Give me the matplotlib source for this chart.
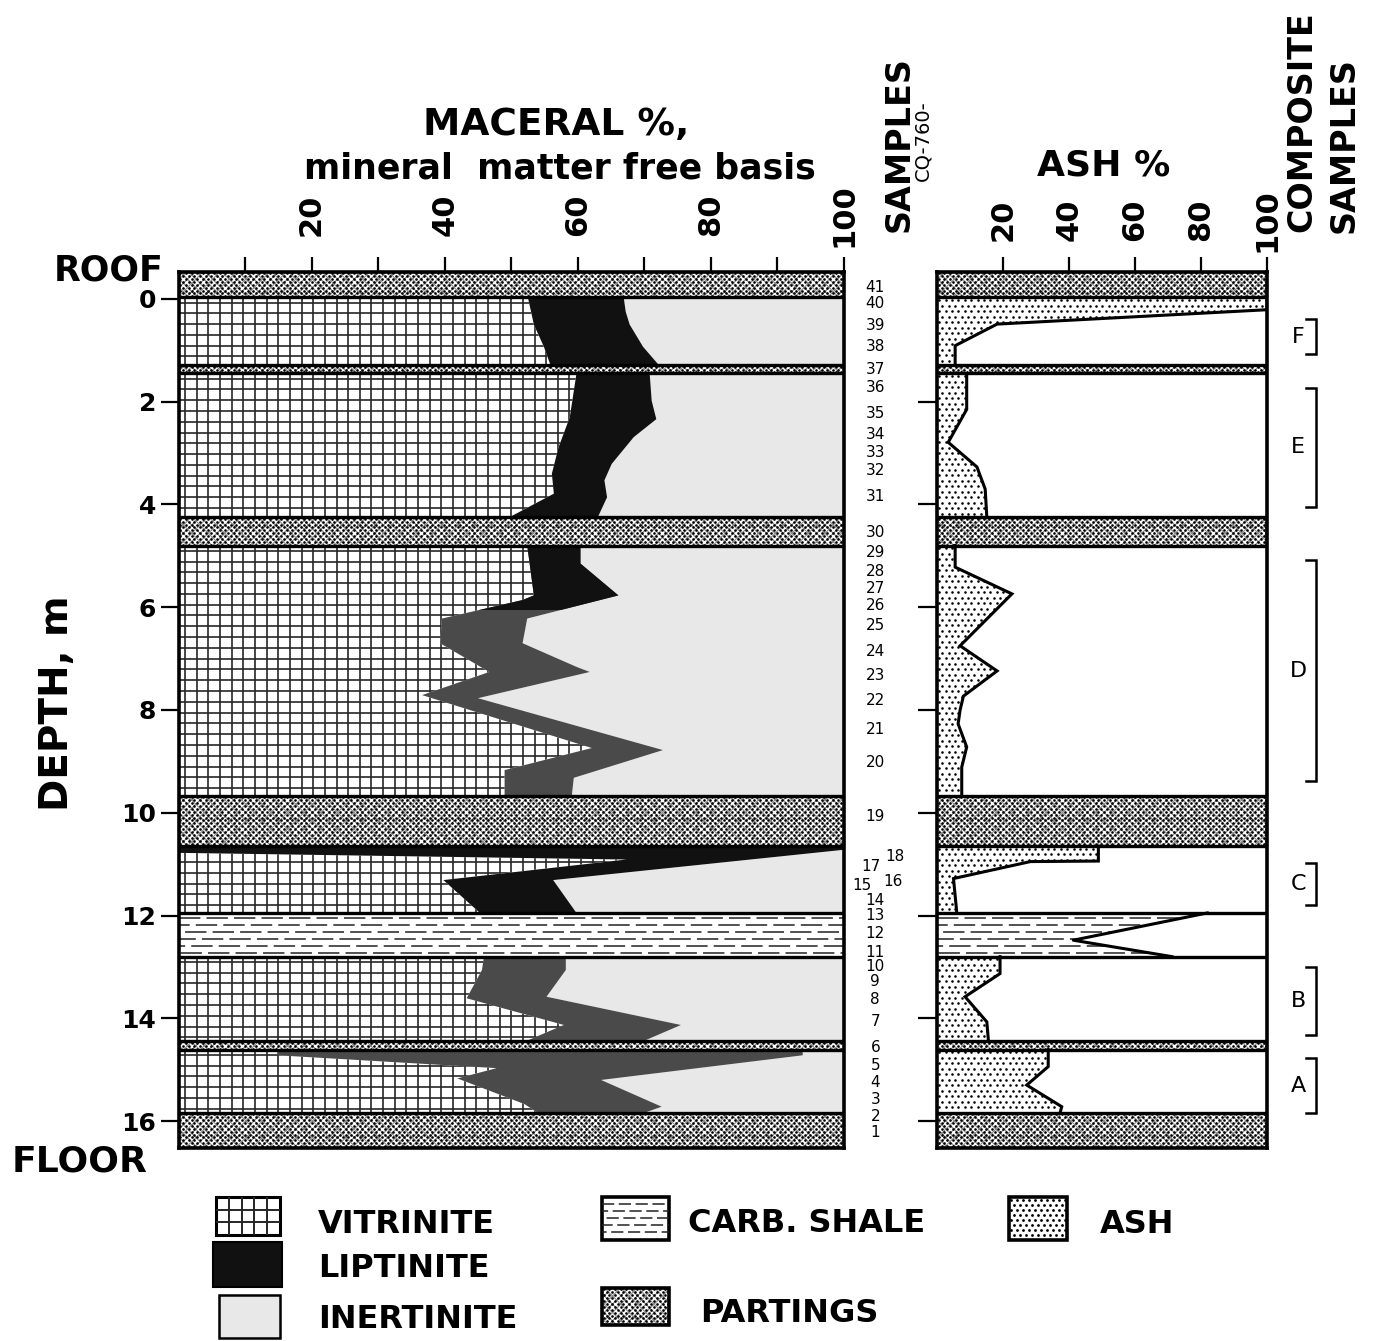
import numpy as np
import matplotlib.pyplot as plt
import matplotlib.transforms as mtransforms
from matplotlib.patches import Polygon, Rectangle
from matplotlib.collections import LineCollection

W, H = 1373, 1341
plt.rcParams['font.family'] = ['DejaVu Sans']
plt.rcParams['hatch.linewidth'] = 0.8

# ---------------- data ----------------
depth_top, depth_bot = -0.53, 16.53

# layers (top, bottom), depth in m
parting_layers = [(-0.53, -0.03), (1.29, 1.45), (4.25, 4.80), (9.67, 10.65), (14.45, 14.61), (15.84, 16.53)]
seam_layers = [(-0.03, 1.29), (1.45, 4.25), (4.80, 9.67), (10.65, 11.95), (12.80, 14.45), (14.61, 15.84)]
shale_layer = (11.95, 12.80)

# vitrinite % (left edge of liptinite), vitrinite+liptinite % (left edge of inertinite), ash %
vit_d1 = [-0.03, 0.50, 0.93, 1.29]
vit_1 = [52.5, 53.4, 54.9, 55.9]
vl_d1 = [-0.03, 0.25, 0.50, 0.93, 1.29]
vl_1 = [66.9, 67.2, 67.8, 69.8, 72.2]
ash_d1 = [-0.03, 0.21, 0.49, 0.91, 1.29]
ash_1 = [100, 100, 18.2, 5.5, 5.5]

vit_d2 = [1.45, 2.30, 2.89, 3.40, 3.79, 4.25]
vit_2 = [59.8, 58.8, 57.1, 56.1, 56.4, 49.7]
vl_d2 = [1.45, 1.98, 2.34, 2.69, 3.21, 3.53, 3.86, 4.25]
vl_2 = [70.8, 71.1, 71.8, 68.4, 65.1, 64.0, 64.4, 63.0]
ash_d2 = [1.45, 2.15, 2.79, 3.27, 3.70, 4.25]
ash_2 = [9.0, 9.0, 3.4, 12.1, 14.6, 15.1]

vit_d3 = [4.80, 5.77, 5.86, 6.22, 6.70, 7.26, 7.71, 8.74, 9.17, 9.67]
vit_3 = [52.4, 53.4, 51.7, 39.6, 39.3, 46.7, 36.6, 62.1, 49.0, 49.0]
vl_d3 = [4.80, 5.15, 5.77, 6.22, 6.70, 7.16, 7.26, 7.77, 8.78, 9.32, 9.67]
vl_3 = [60.4, 60.4, 66.1, 52.4, 51.7, 59.8, 61.8, 45.0, 72.8, 59.4, 59.1]
ash_d3 = [4.80, 5.22, 5.74, 6.75, 7.24, 7.73, 8.00, 8.27, 8.72, 9.11, 9.67]
ash_3 = [5.5, 5.5, 22.7, 7.0, 18.2, 8.0, 7.0, 6.4, 9.0, 7.5, 7.5]

vit_d4 = [10.65, 10.78, 10.91, 11.31, 11.95]
vit_4 = [0.0, 0.0, 67.3, 39.8, 45.3]
vl_d4 = [10.65, 10.72, 11.31, 11.95]
vl_4 = [100, 100, 56.3, 59.8]
ash_d4 = [10.65, 10.94, 10.95, 11.28, 11.95]
ash_4 = [48.9, 48.9, 28.3, 5.0, 6.0]

ash_ds = [11.95, 12.48, 12.80]
ash_s = [81.9, 41.3, 71.2]

vit_d5 = [12.80, 13.06, 13.61, 14.13, 14.45]
vit_5 = [45.9, 45.6, 43.3, 57.9, 52.1]
vl_d5 = [12.80, 13.06, 13.58, 14.13, 14.42, 14.45]
vl_5 = [58.2, 58.2, 55.3, 75.5, 70.3, 70.3]
ash_d5 = [12.80, 13.13, 13.58, 14.07, 14.45]
ash_5 = [19.1, 19.1, 8.5, 15.1, 15.6]

vit_d6 = [14.61, 14.72, 14.97, 15.17, 15.67, 15.84]
vit_6 = [14.9, 14.9, 47.8, 41.9, 52.0, 54.0]
vl_d6 = [14.61, 14.72, 15.20, 15.72, 15.84]
vl_6 = [93.8, 93.8, 63.5, 72.6, 70.0]
ash_d6 = [14.61, 14.94, 15.30, 15.72, 15.84]
ash_6 = [33.7, 33.7, 27.2, 37.8, 37.3]

# sample numbers CQ-760-xx and their depths
sample_ids = list(range(41, 0, -1))
sample_depth = [-0.23, 0.08, 0.51, 0.93, 1.38, 1.73, 2.22, 2.63, 2.98, 3.33, 3.85, 4.55, 4.94,
                5.31, 5.63, 5.96, 6.35, 6.87, 7.32, 7.81, 8.37, 9.03, 10.08,
                10.86, 11.04, 11.33, 11.41, 11.70, 11.99, 12.34, 12.71, 13.00, 13.29,
                13.64, 14.07, 14.56, 14.91, 15.24, 15.59, 15.92, 16.23]
sample_shift = {18: 3.0, 17: -0.7, 16: 2.7, 15: -2.0}

# composite samples
comp_names = ['F', 'E', 'D', 'C', 'B', 'A']
comp_top = [0.39, 1.74, 5.08, 10.98, 13.00, 14.78]
comp_bot = [1.08, 4.04, 9.39, 11.79, 14.33, 15.85]

seams = [(vit_d1, vit_1, vl_d1, vl_1, ash_d1, ash_1),
         (vit_d2, vit_2, vl_d2, vl_2, ash_d2, ash_2),
         (vit_d3, vit_3, vl_d3, vl_3, ash_d3, ash_3),
         (vit_d4, vit_4, vl_d4, vl_4, ash_d4, ash_4),
         (vit_d5, vit_5, vl_d5, vl_5, ash_d5, ash_5),
         (vit_d6, vit_6, vl_d6, vl_6, ash_d6, ash_6)]
lip_colors = ['#111111', '#111111', '#4a4a4a', '#111111', '#4a4a4a', '#4a4a4a']

GRID_C = '#262626'
INERT_C = '#e8e8e8'


def add_poly(a, xs, ys, **kw):
    p = Polygon(np.column_stack([xs, ys]), closed=True, **kw)
    a.add_patch(p)
    return p


def grid_lines(a, clip, y0, y1, x0=0, x1=100, dx=1.75, dy=0.21, lw=1.2):
    segs = [[(x, y0), (x, y1)] for x in np.arange(x0 + 1.0, x1, dx)]
    segs += [[(x0, y), (x1, y)] for y in np.arange(y0 + 0.1, y1, dy)]
    lc = LineCollection(segs, colors=GRID_C, linewidths=lw)
    a.add_collection(lc)
    lc.set_clip_path(clip)


def stipple(a, clip, x0, x1, y0, y1, dx, dy, s=3.0, color='black'):
    pts = []
    for i, y in enumerate(np.arange(y0 + dy / 2, y1, dy)):
        off = dx / 2 if i % 2 else 0
        for x in np.arange(x0 + off + dx / 3, x1, dx):
            pts.append((x, y))
    pts = np.array(pts)
    sc = a.scatter(pts[:, 0], pts[:, 1], s=s, c=color, marker='o', linewidths=0)
    sc.set_clip_path(clip)


def shale_dashes(a, clip, y0, y1, dy=0.135):
    for k, y in enumerate(np.arange(y0 + 0.1, y1 - 0.03, dy)):
        ln, = a.plot([0, 100], [y, y], color='#222222', lw=1.1,
                     linestyle=(k * 7, (14, 4)))
        if clip is not None:
            ln.set_clip_path(clip)


def parting(a, top, bot, px_x):
    # fine dotted mesh of the partings
    r = Rectangle((0, top), 100, bot - top, facecolor='white', edgecolor='#8a8a8a',
                  hatch='xxxx', lw=0)
    a.add_patch(r)
    stipple(a, r, 0, 100, top, bot, 5.6 / px_x, 2.9 / 51.375, s=3.6)


fig = plt.figure(figsize=(W / 100, H / 100), dpi=100)
y_bot_px, y_top_px = 1148.3, 271.7
ax = fig.add_axes([178.5 / W, 1 - y_bot_px / H, (844 - 178.5) / W, (y_bot_px - y_top_px) / H])
ax2 = fig.add_axes([937 / W, 1 - y_bot_px / H, (1267 - 937) / W, (y_bot_px - y_top_px) / H])
lax = fig.add_axes([0, 0, 1, 1])
lax.set_xlim(0, W)
lax.set_ylim(H, 0)
lax.set_axis_off()

for a in (ax, ax2):
    a.set_xlim(0, 100)
    a.set_ylim(depth_bot, depth_top)
    for sp in a.spines.values():
        sp.set_linewidth(2.6)

# ---------------- maceral panel ----------------
for i, ((top, bot), (vd, vit, vld, vl, ad, ash)) in enumerate(zip(seam_layers, seams)):
    add_poly(ax, vl + [100, 100], vld + [bot, top], facecolor=INERT_C, edgecolor='none')
    vp = add_poly(ax, [0] + vit + [0], [top] + vd + [bot], facecolor='white', edgecolor='none')
    grid_lines(ax, vp, top, bot)
    lp = add_poly(ax, vit + vl[::-1], vd + vld[::-1], facecolor=lip_colors[i], edgecolor='none')
    if i == 2:
        # upper part of this seam printed solid black
        lp2 = add_poly(ax, vit + vl[::-1], vd + vld[::-1], facecolor='#111111', edgecolor='none')
        lp2.set_clip_path(Rectangle((0, top), 100, 6.05 - top, transform=ax.transData))

# carbonaceous shale
ax.add_patch(Rectangle((0, shale_layer[0]), 100, shale_layer[1] - shale_layer[0],
                       facecolor='white', edgecolor='none'))
shale_dashes(ax, None, *shale_layer)

# partings
for top, bot in parting_layers:
    parting(ax, top, bot, 6.655)
    parting(ax2, top, bot, 3.30)

# ---------------- ash panel ----------------
for (top, bot), (vd, vit, vld, vl, ad, ash) in zip(seam_layers, seams):
    ap = add_poly(ax2, [0] + ash + [0], [top] + ad + [bot], facecolor='white', edgecolor='none')
    stipple(ax2, ap, 0, 100, top, bot, 6.4 / 3.3, 5.5 / 51.375, s=3.4)
    ax2.plot(ash, ad, color='black', lw=2.2, solid_joinstyle='miter')

sp_ = add_poly(ax2, [0] + ash_s + [0], [shale_layer[0]] + ash_ds + [shale_layer[1]],
               facecolor='white', edgecolor='none')
shale_dashes(ax2, sp_, *shale_layer)
ax2.plot(ash_s, ash_ds, color='black', lw=2.2)

# layer boundaries
bounds = sorted({b for lay in parting_layers + seam_layers + [shale_layer] for b in lay}
                - {depth_top, depth_bot})
for a in (ax, ax2):
    a.hlines(bounds, 0, 100, colors='black', lw=2.4)

# ---------------- ticks ----------------
ax.xaxis.tick_top()
ax.set_xticks(np.arange(10, 101, 10))
ax.set_xticklabels([])
ax.tick_params(axis='x', direction='out', length=11, width=1.6)
ax.set_yticks(range(0, 17, 2))
ax.set_yticklabels([str(v) for v in range(0, 17, 2)], fontsize=18, fontweight='bold')
ax.tick_params(axis='y', direction='out', length=13, width=1.6, pad=3)

ax2.xaxis.tick_top()
ax2.set_xticks([20, 40, 60, 80, 100])
ax2.set_xticklabels([])
ax2.tick_params(axis='x', direction='out', length=11, width=1.6)
ax2.set_yticks(range(2, 17, 2))
ax2.set_yticklabels([])
ax2.tick_params(axis='y', direction='out', length=14, width=1.6)

tr_main = mtransforms.blended_transform_factory(ax.transData, lax.transData)
tr_ash = mtransforms.blended_transform_factory(ax2.transData, lax.transData)
for v in [20, 40, 60, 80, 100]:
    lax.text(v, 215, str(v), transform=tr_main, rotation=90, ha='center', va='center',
             fontsize=22, fontweight='bold')
    lax.text(v, 220, str(v), transform=tr_ash, rotation=90, ha='center', va='center',
             fontsize=22, fontweight='bold')

# sample numbers
for n, d in zip(sample_ids, sample_depth):
    ax.text(104.7 + sample_shift.get(n, 0), d, str(n), ha='center', va='center',
            fontsize=11, clip_on=False)

# composite brackets
for name, t, b in zip(comp_names, comp_top, comp_bot):
    ax2.plot([111.8, 114.8, 114.8, 111.8], [t, t, b, b], color='black', lw=1.8,
             clip_on=False, solid_joinstyle='miter')
    ax2.text(109.5, (t + b) / 2, name, ha='center', va='center', fontsize=16, clip_on=False)

# ---------------- titles ----------------
lax.text(556, 135, 'MACERAL %,', ha='center', va='baseline', fontsize=27, fontweight='bold')
lax.text(560, 178, 'mineral  matter free basis', ha='center', va='baseline', fontsize=25,
         fontweight='bold')
lax.text(1104, 175, 'ASH %', ha='center', va='baseline', fontsize=26, fontweight='bold')
lax.text(899, 144, 'SAMPLES', rotation=90, ha='center', va='center', fontsize=24,
         fontweight='bold')
lax.text(923, 141, 'CQ-760-', rotation=90, ha='center', va='center', fontsize=14)
lax.text(1302, 122, 'COMPOSITE', rotation=90, ha='center', va='center', fontsize=24,
         fontweight='bold')
lax.text(1344, 145, 'SAMPLES', rotation=90, ha='center', va='center', fontsize=24,
         fontweight='bold')
lax.text(109, 280, 'ROOF', ha='center', va='baseline', fontsize=25, fontweight='bold')
lax.text(80, 1172, 'FLOOR', ha='center', va='baseline', fontsize=26, fontweight='bold')
lax.text(57, 703, 'DEPTH, m', rotation=90, ha='center', va='center', fontsize=28,
         fontweight='bold')

# ---------------- legend ----------------
r = lax.add_patch(Rectangle((216, 1197), 64, 38, facecolor='white', edgecolor='black', lw=2.2))
segs = [[(216 + 12.8 * k, 1197), (216 + 12.8 * k, 1235)] for k in range(1, 5)]
segs += [[(216, 1197 + 12.7 * k), (280, 1197 + 12.7 * k)] for k in range(1, 3)]
lc = LineCollection(segs, colors=GRID_C, linewidths=1.4)
lax.add_collection(lc)
lc.set_clip_path(r)
lax.add_patch(Rectangle((213, 1242), 69, 45, facecolor='#111111', edgecolor='black', lw=1.5))
lax.add_patch(Rectangle((219, 1295), 61, 43, facecolor=INERT_C, edgecolor='black', lw=1.8))

r = lax.add_patch(Rectangle((602, 1197), 67, 43, facecolor='white', edgecolor='black', lw=2.6))
for k, y in enumerate(np.arange(1204, 1238, 7)):
    ln, = lax.plot([602, 669], [y, y], color='#222222', lw=1.1, linestyle=(k * 4, (8, 3)))
    ln.set_clip_path(r)
r = lax.add_patch(Rectangle((602, 1288), 67, 37, facecolor='white', edgecolor='#8a8a8a',
                            hatch='xxxx', lw=0))
stipple(lax, r, 602, 669, 1288, 1325, 5.6, 2.9, s=3.6)
lax.add_patch(Rectangle((602, 1288), 67, 37, facecolor='none', edgecolor='black', lw=2.6))
r = lax.add_patch(Rectangle((1009, 1197), 58, 43, facecolor='white', edgecolor='black', lw=2.6))
stipple(lax, r, 1009, 1067, 1197, 1240, 6.0, 5.0, s=4)

lax.text(318, 1233, 'VITRINITE', fontsize=23, fontweight='bold', va='baseline')
lax.text(318, 1277, 'LIPTINITE', fontsize=23, fontweight='bold', va='baseline')
lax.text(318, 1328, 'INERTINITE', fontsize=23, fontweight='bold', va='baseline')
lax.text(688, 1232, 'CARB. SHALE', fontsize=23, fontweight='bold', va='baseline')
lax.text(700, 1322, 'PARTINGS', fontsize=23, fontweight='bold', va='baseline')
lax.text(1100, 1233, 'ASH', fontsize=23, fontweight='bold', va='baseline')

fig.savefig('out.png', dpi=100)
